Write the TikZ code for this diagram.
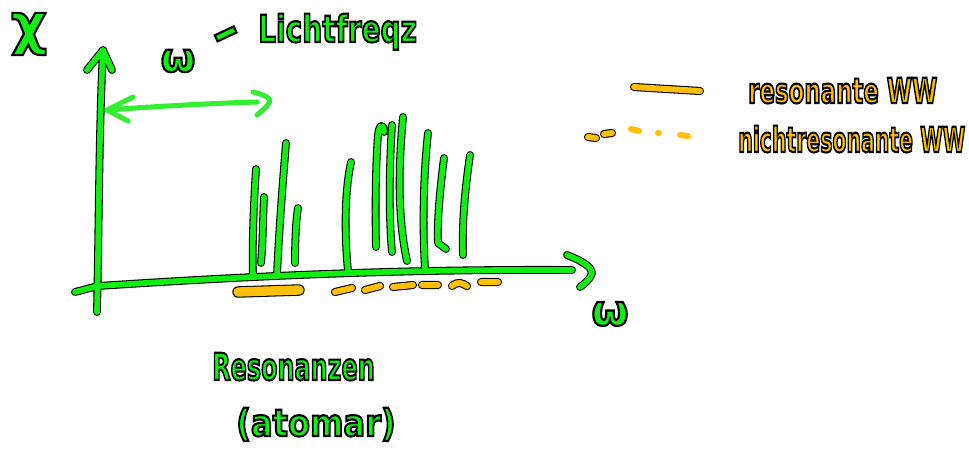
\documentclass[tikz,border=0pt]{standalone}
\usepackage{fontspec}
\setmainfont{DejaVu Sans}
\usepackage{graphicx}
\definecolor{hgreen}{HTML}{11EE11}
\definecolor{hlight}{HTML}{33EE33}
\definecolor{horange}{HTML}{FFC000}
% outlined text: fill in the current colour, stroke in black (PDF text render mode 2)
\newcommand\hwtext[3]{\scalebox{#1}[1]{\fontsize{#2}{#2}\selectfont\bfseries\special{pdf:literal direct 2 Tr 0 0 0 RG 1.6 w}#3\special{pdf:literal direct 0 Tr}}}
\tikzset{
  gstroke/.style={draw=black, line width=0.8pt, double=hgreen, double distance=4.3pt, line cap=round, line join=round},
  ostroke/.style={draw=black, line width=0.8pt, double=horange, double distance=4.5pt, line cap=round, line join=round},
  oblob/.style={draw=black, line width=0.8pt, double=horange, double distance=7pt, line cap=round, line join=round},
  oplain/.style={draw=horange, line width=4.5pt, line cap=round},
  lightarrow/.style={draw=hlight, line width=3.8pt, line cap=round, line join=round},
  gtext/.style={inner sep=0pt, text=hgreen},
  otext/.style={inner sep=0pt, text=horange},
}
\begin{document}
\begin{tikzpicture}[x=0.75pt, y=-0.75pt]
\fill[white] (0,0) rectangle (969,454);
\useasboundingbox (0,0) rectangle (969,454);

% named reference points
\coordinate (yb) at (97,312);
\coordinate (yt) at (103,50);
\coordinate (xl) at (75,292);
\coordinate (xo) at (98,286);
\coordinate (xr) at (572,270);
\coordinate (xt) at (592,273);

% axes and resonance lines (green, outlined)
\draw[gstroke]
  (yb) .. controls (99,220) and (99,130) .. (yt)
  (87,70) -- (yt) -- (112,70)
  (xl) -- (xo) .. controls (250,276) and (400,269) .. (xr)
  (567,255) .. controls (585,262) and (592,268) .. (xt) .. controls (590,280) and (584,284) .. (580,287)
  (253,277) .. controls (252,240) and (254,200) .. (256,169)
  (261,263) .. controls (263,240) and (263,215) .. (264,197)
  (277,275) .. controls (279,230) and (283,180) .. (286,143)
  (295,263) .. controls (295,240) and (296,220) .. (298,208)
  (348,271) .. controls (344,230) and (345,190) .. (351,162)
  (376,247) .. controls (375,200) and (376,160) .. (378,135) .. controls (379,124) and (384,123) .. (384,132)
  (392,125) .. controls (389,170) and (389,220) .. (392,252)
  (403,117) .. controls (398,170) and (398,220) .. (407,261)
  (425,269) .. controls (422,220) and (424,170) .. (428,133)
  (444,158) .. controls (440,190) and (437,220) .. (438,243) -- (446,249)
  (470,155) .. controls (465,190) and (462,220) .. (463,255);

% orange: resonant (solid) and non-resonant (dashed) under the axis
\draw[oblob] (238,292) -- (299,290);
\draw[ostroke]
  (335,292) -- (352,288)
  (365,290) -- (380,286)
  (393,287) -- (413,285)
  (422,285) -- (438,285)
  (452,286) .. controls (458,281) and (462,283) .. (467,286)
  (481,282) -- (498,282);

% light green double arrow
\coordinate (al) at (107,110);
\coordinate (ar) at (270,101);
\draw[lightarrow] (al) .. controls (160,106) and (220,103) .. (257,102);
\draw[lightarrow] (133,97) -- (al) -- (128,121);
\draw[lightarrow] (253,92) .. controls (265,95) and (270,98) .. (ar) .. controls (268,106) and (262,111) .. (257,115);

% legend
\draw[ostroke] (634,87) -- (700,91);
\draw[ostroke] (588,137) -- (596,138) (604,134) -- (612,133);
\draw[oplain] (631,129) -- (639,131) (658,133) -- (659,133) (680,135) -- (688,136);

% texts
\node[gtext] (chi) at (29,34) {\hwtext{1}{42}{χ}};
\node[gtext] (om1) at (178,61) {\hwtext{1}{30}{ω}};
\node[gtext, rotate=25] (dash) at (228,39) {\hwtext{1}{40}{–}};
\node[gtext, anchor=base west] (licht) at (258,42) {\hwtext{0.75}{28}{Lichtfreqz}};
\node[gtext] (om2) at (610,314) {\hwtext{1}{32}{ω}};
\node[gtext, anchor=base west] (reso) at (212,380) {\hwtext{0.64}{28}{Resonanzen}};
\node[gtext, anchor=base west] (atom) at (236,436) {\hwtext{0.86}{28}{(atomar)}};
\node[otext, anchor=base west] (lres) at (748,103) {\hwtext{0.66}{26}{resonante WW}};
\node[otext, anchor=base west] (lnres) at (738,152) {\hwtext{0.59}{26}{nichtresonante WW}};
\end{tikzpicture}
\end{document}
